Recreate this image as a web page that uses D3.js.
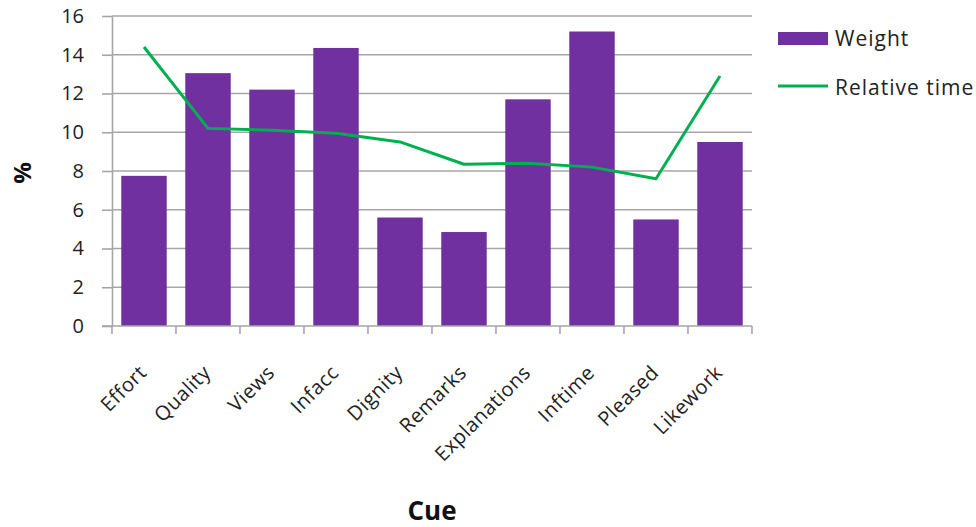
<!DOCTYPE html>
<html>
<head>
<meta charset="utf-8">
<script src="https://cdn.jsdelivr.net/npm/d3@7"></script>
<style>
  html, body { margin: 0; padding: 0; background: #fff; }
  svg { display: block; font-family: "Open Sans", sans-serif; }
</style>
</head>
<body>
<svg id="chart" width="976" height="527"></svg>
<script>
// Cue categories and the two series (in %)
const cues = ["Effort", "Quality", "Views", "Infacc", "Dignity", "Remarks", "Explanations", "Inftime", "Pleased", "Likework"];
const weight = [7.75, 13.05, 12.2, 14.35, 5.6, 4.85, 11.7, 15.2, 5.5, 9.5];
const relativeTime = [14.4, 10.2, 10.1, 9.95, 9.5, 8.35, 8.4, 8.2, 7.6, 12.9];
const yTicks = [0, 2, 4, 6, 8, 10, 12, 14, 16];

const purple = "#7030a0", green = "#00b050", grid = "#a6a6a6", textCol = "#222";
const labelFont = "\"Open Sans\", sans-serif";

const svg = d3.select("#chart");
const plot = { left: 112, right: 752, top: 16, bottom: 326 };

const x = d3.scaleBand().domain(cues).range([plot.left, plot.right]).paddingInner(0.29).paddingOuter(0.145);
const y = d3.scaleLinear().domain([0, 16]).range([plot.bottom, plot.top]);
const xEdges = d3.scaleLinear().domain([0, cues.length]).range([plot.left, plot.right]);

// Horizontal gridlines
svg.append("g").selectAll("line").data(yTicks.filter(d => d > 0)).join("line")
  .attr("x1", plot.left).attr("x2", plot.right)
  .attr("y1", d => y(d)).attr("y2", d => y(d))
  .attr("stroke", grid).attr("stroke-width", 1.6);

// Bars
svg.append("g").selectAll("rect").data(cues).join("rect")
  .attr("x", d => x(d)).attr("width", x.bandwidth())
  .attr("y", (d, i) => y(weight[i])).attr("height", (d, i) => y(0) - y(weight[i]))
  .attr("fill", purple);

// Y axis
const yAxis = svg.append("g").attr("transform", `translate(${plot.left},0)`)
  .call(d3.axisLeft(y).tickValues(yTicks).tickSize(10).tickSizeOuter(0).tickPadding(18));
yAxis.select(".domain").attr("stroke", grid).attr("stroke-width", 1.6);
yAxis.selectAll(".tick line").attr("stroke", grid).attr("stroke-width", 1.6);
yAxis.selectAll(".tick text").attr("font-size", 20).attr("fill", textCol).attr("font-family", labelFont);

// X axis line with ticks at band boundaries
svg.append("line").attr("x1", plot.left - 10).attr("x2", plot.right)
  .attr("y1", plot.bottom).attr("y2", plot.bottom).attr("stroke", grid).attr("stroke-width", 1.6);
svg.append("g").selectAll("line").data(d3.range(cues.length + 1)).join("line")
  .attr("x1", d => xEdges(d)).attr("x2", d => xEdges(d))
  .attr("y1", plot.bottom).attr("y2", plot.bottom + 8)
  .attr("stroke", grid).attr("stroke-width", 1.6);

// Category labels, rotated
svg.append("g").selectAll("text").data(cues).join("text")
  .attr("transform", d => `translate(${x(d) + x.bandwidth() / 2 - 6},${plot.bottom + 38}) rotate(-45)`)
  .attr("text-anchor", "end").attr("dy", "0.7em")
  .attr("font-size", 20).attr("letter-spacing", 0.5).attr("fill", textCol)
  .text(d => d);

// Relative time line
const line = d3.line().x((d, i) => x(cues[i]) + x.bandwidth() / 2).y(d => y(d));
svg.append("path").datum(relativeTime)
  .attr("d", line).attr("fill", "none").attr("stroke", green).attr("stroke-width", 3)
  .attr("stroke-linejoin", "round");

// Axis titles
svg.append("text").attr("transform", "translate(31,173) rotate(-90)")
  .attr("text-anchor", "middle").attr("font-size", 24).attr("font-weight", "bold").attr("fill", "#111")
  .text("%");
svg.append("text").attr("x", 432).attr("y", 520)
  .attr("text-anchor", "middle").attr("font-size", 26).attr("font-weight", "bold").attr("fill", "#111")
  .text("Cue");

// Legend
const legend = svg.append("g");
legend.append("rect").attr("x", 778).attr("y", 32).attr("width", 50).attr("height", 13).attr("fill", purple);
legend.append("text").attr("x", 835).attr("y", 46).attr("font-size", 21).attr("letter-spacing", 1).attr("fill", textCol).text("Weight");
legend.append("line").attr("x1", 778).attr("x2", 828).attr("y1", 86).attr("y2", 86)
  .attr("stroke", green).attr("stroke-width", 3);
legend.append("text").attr("x", 835).attr("y", 95).attr("font-size", 21).attr("letter-spacing", 1).attr("fill", textCol).text("Relative time");
</script>
</body>
</html>
